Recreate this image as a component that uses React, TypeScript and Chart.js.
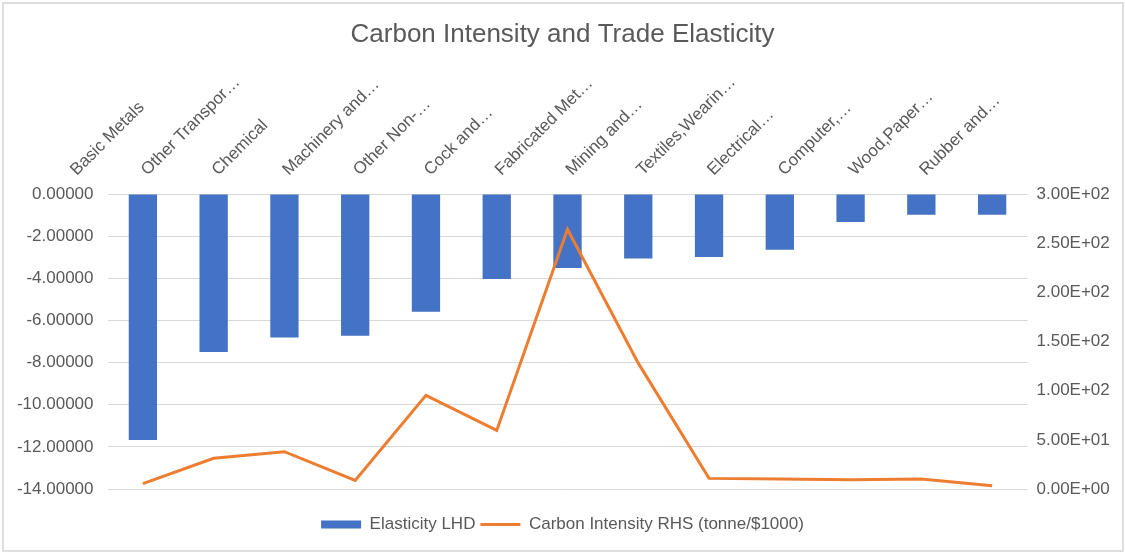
import React, { useEffect, useRef } from 'react';
import { Chart, registerables } from 'chart.js';

Chart.register(...registerables);

const categories: string[] = [
  'Basic Metals',
  'Other Transpor…',
  'Chemical',
  'Machinery and…',
  'Other Non-…',
  'Cock and…',
  'Fabricated Met…',
  'Mining and…',
  'Textiles,Wearin…',
  'Electrical…',
  'Computer,…',
  'Wood,Paper…',
  'Rubber and…',
];

const elasticity: number[] = [
  -11.67, -7.5, -6.81, -6.73, -5.59, -4.03, -3.51, -3.06, -2.99, -2.64, -1.33, -0.98, -0.98,
];

const carbonIntensity: number[] = [
  5.4, 31.2, 37.9, 8.8, 95.2, 59.6, 264.1, 128.0, 10.8, 10.2, 9.5, 10.2, 3.4,
];

const leftTickValues: number[] = [0, -2, -4, -6, -8, -10, -12, -14];
const rightTickValues: number[] = [0, 50, 100, 150, 200, 250, 300];

const TEXT = '#595959';
const FONT = "'Liberation Sans', Arial, Helvetica, sans-serif";

function fmtExp(v: number): string {
  if (v === 0) return '0.00E+00';
  const e = Math.floor(Math.log10(Math.abs(v)));
  const m = v / Math.pow(10, e);
  return m.toFixed(2) + 'E' + (e < 0 ? '-' : '+') + String(Math.abs(e)).padStart(2, '0');
}

export default function App() {
  const ref = useRef<HTMLCanvasElement | null>(null);

  useEffect(() => {
    if (!ref.current) return;
    Chart.defaults.font.family = FONT;
    const chart = new Chart(ref.current, {
      type: 'bar',
      data: {
        labels: categories,
        datasets: [
          {
            type: 'bar',
            label: 'Elasticity LHD',
            data: elasticity,
            backgroundColor: '#4472C4',
            borderWidth: 0,
            categoryPercentage: 1,
            barPercentage: 0.4,
            xAxisID: 'x',
            yAxisID: 'y',
            order: 1,
          },
          {
            type: 'line',
            label: 'Carbon Intensity RHS (tonne/$1000)',
            data: carbonIntensity,
            borderColor: '#ED7D31',
            backgroundColor: '#ED7D31',
            borderWidth: 3,
            pointRadius: 0,
            tension: 0,
            xAxisID: 'x',
            yAxisID: 'y1',
            order: 0,
          },
        ],
      } as any,
      options: {
        responsive: false,
        animation: false,
        devicePixelRatio: 1,
        layout: { padding: { top: 0, left: 0, right: 0, bottom: 11 } },
        plugins: {
          title: {
            display: true,
            text: 'Carbon Intensity and Trade Elasticity',
            color: TEXT,
            font: { size: 26, weight: 'normal', family: FONT },
            padding: { top: 19, bottom: 9 },
          },
          legend: {
            display: true,
            position: 'bottom',
            labels: {
              color: TEXT,
              font: { size: 17, family: FONT },
              usePointStyle: true,
              pointStyleWidth: 40,
              boxHeight: 8,
              padding: 5,
              sort: (a: any, b: any) => a.datasetIndex - b.datasetIndex,
              generateLabels: (c: any) => {
                const items = Chart.defaults.plugins.legend.labels.generateLabels(c);
                return items.map((it: any) => {
                  if (it.datasetIndex === 0) {
                    it.pointStyle = 'rect';
                    it.lineWidth = 0;
                    it.strokeStyle = '#4472C4';
                    it.fillStyle = '#4472C4';
                  } else {
                    it.pointStyle = 'line';
                    it.lineWidth = 3;
                    it.strokeStyle = '#ED7D31';
                  }
                  return it;
                });
              },
            },
          },
          tooltip: { enabled: false },
        },
        scales: {
          x: {
            type: 'category',
            position: 'top',
            offset: true,
            grid: { display: false, drawTicks: false },
            border: { display: false },
            ticks: {
              autoSkip: false,
              minRotation: 45,
              maxRotation: 45,
              padding: 14,
              labelOffset: -55,
              color: TEXT,
              font: { size: 17, family: FONT },
            },
            afterFit: (s: any) => {
              s.height = 134.8;
            },
          },
          xPad: {
            type: 'category',
            position: 'bottom',
            display: true,
            grid: { display: false, drawTicks: false },
            border: { display: false },
            ticks: { display: false },
            afterFit: (s: any) => {
              s.height = 22;
            },
          },
          y: {
            type: 'linear',
            position: 'left',
            min: -14,
            max: 0,
            grid: { color: '#d9d9d9', lineWidth: 1, drawTicks: false },
            border: { display: false },
            afterBuildTicks: (s: any) => {
              s.ticks = leftTickValues.map((v) => ({ value: v }));
            },
            ticks: {
              color: TEXT,
              font: { size: 17, family: FONT },
              padding: 14,
              callback: (v: any) => Number(v).toFixed(5),
            },
            afterFit: (s: any) => {
              s.width = 107.5;
            },
          },
          y1: {
            type: 'linear',
            position: 'right',
            min: 0,
            max: 300,
            grid: { display: false, drawTicks: false },
            border: { display: false },
            afterBuildTicks: (s: any) => {
              s.ticks = rightTickValues.map((v) => ({ value: v }));
            },
            ticks: {
              color: TEXT,
              font: { size: 17, family: FONT },
              padding: 9,
              callback: (v: any) => fmtExp(Number(v)),
            },
            afterFit: (s: any) => {
              s.width = 97.5;
            },
          },
        },
      } as any,
    });
    return () => chart.destroy();
  }, []);

  return (
    <div
      style={{
        position: 'fixed',
        left: 0,
        top: 0,
        width: 1125,
        height: 554,
        background: '#ffffff',
      }}
    >
      <canvas ref={ref} width={1125} height={554} style={{ display: 'block', width: 1125, height: 554 }} />
      <div
        style={{
          position: 'absolute',
          left: 2,
          top: 2,
          width: 1122,
          height: 550,
          boxSizing: 'border-box',
          border: '2px solid #dedede',
          pointerEvents: 'none',
        }}
      />
    </div>
  );
}
